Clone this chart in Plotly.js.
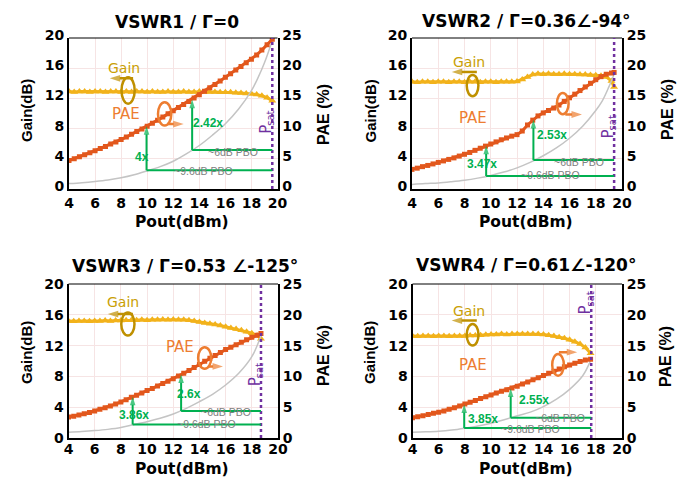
<!DOCTYPE html>
<html><head><meta charset="utf-8">
<script src="https://cdn.plot.ly/plotly-3.0.1.min.js"></script>
<style>html,body{margin:0;padding:0;background:#fff}#chart{width:684px;height:483px}</style>
</head><body><div id="chart"></div>
<script>
// ---------------- data ----------------
const xTicks = [4, 6, 8, 10, 12, 14, 16, 18, 20];
const gainTicks = [0, 4, 8, 12, 16, 20];
const paeTicks = [0, 5, 10, 15, 20, 25];
const titles = ['VSWR1 / Γ=0', 'VSWR2 / Γ=0.36∠-94°', 'VSWR3 / Γ=0.53 ∠-125°', 'VSWR4 / Γ=0.61∠-120°'];

// VSWR1
const pout1 = [4.0,4.4,4.8,5.2,5.6,6.0,6.4,6.8,7.2,7.6,8.0,8.4,8.8,9.2,9.6,10.0,10.4,10.8,11.2,11.6,12.0,12.4,12.8,13.2,13.6,14.0,14.4,14.8,15.2,15.6,16.0,16.4,16.8,17.2,17.6,18.0,18.4,18.8,19.2,19.6];
const gain1 = [12.9,12.85,12.9,12.9,12.85,12.9,12.9,12.85,12.9,12.9,12.85,12.9,12.85,12.9,12.9,12.85,12.9,12.85,12.85,12.9,12.85,12.85,12.9,12.85,12.85,12.9,12.85,12.85,12.85,12.8,12.8,12.8,12.75,12.7,12.65,12.6,12.5,12.35,12.1,11.7];
const pae1 = [4.7,5.0,5.35,5.65,6.0,6.35,6.7,7.05,7.45,7.8,8.2,8.6,9.05,9.5,9.95,10.4,10.9,11.4,11.9,12.45,12.95,13.5,14.0,14.5,15.05,15.6,16.2,16.75,17.3,17.9,18.5,19.1,19.7,20.3,20.9,21.5,22.2,23.0,23.9,24.8];
const refPout1 = [4,5,6,7,8,9,10,11,12,13,14,15,16,17,18,18.5,19,19.6];
const refPae1 = [0.9,1.05,1.25,1.5,1.85,2.35,3.0,3.7,4.6,5.8,7.2,8.9,10.8,13.2,16.3,18.4,20.9,24.6];

// VSWR2
const pout2 = [4.0,4.4,4.8,5.2,5.6,6.0,6.4,6.8,7.2,7.6,8.0,8.4,8.8,9.2,9.6,10.0,10.4,10.8,11.2,11.6,12.0,12.4,12.8,13.2,13.6,14.0,14.4,14.8,15.2,15.6,16.0,16.4,16.8,17.2,17.6,18.0,18.4,18.8,19.2,19.4];
const gain2 = [14.2,14.15,14.2,14.2,14.15,14.2,14.2,14.15,14.2,14.2,14.15,14.2,14.2,14.15,14.2,14.2,14.15,14.2,14.2,14.2,14.25,14.5,14.85,15.15,15.25,15.2,15.25,15.2,15.2,15.25,15.2,15.2,15.15,15.15,15.1,15.05,15.0,14.85,14.3,13.5];
const pae2 = [3.25,3.45,3.7,3.9,4.15,4.4,4.65,4.9,5.15,5.45,5.75,6.05,6.4,6.75,7.1,7.45,7.8,8.15,8.45,8.75,9.0,9.6,10.6,11.4,12.1,12.6,13.0,13.4,13.9,14.5,15.1,15.7,16.3,16.9,17.5,18.1,18.6,19.0,19.2,19.3];
const refPout2 = [4,5,6,7,8,9,10,11,12,13,14,15,16,17,18,18.5,19,19.4];
const refPae2 = [0.75,0.9,1.0,1.2,1.45,1.8,2.25,2.8,3.5,4.4,5.5,6.8,8.4,10.4,13.0,14.6,16.9,19.0];

// VSWR3
const pout3 = [4.0,4.4,4.8,5.2,5.6,6.0,6.4,6.8,7.2,7.6,8.0,8.4,8.8,9.2,9.6,10.0,10.4,10.8,11.2,11.6,12.0,12.4,12.8,13.2,13.6,14.0,14.4,14.8,15.2,15.6,16.0,16.4,16.8,17.2,17.6,18.0,18.4,18.7];
const gain3 = [15.2,15.15,15.2,15.2,15.15,15.2,15.2,15.25,15.2,15.25,15.25,15.3,15.3,15.3,15.35,15.3,15.35,15.35,15.4,15.35,15.4,15.35,15.35,15.3,15.2,15.05,14.95,14.85,14.75,14.6,14.45,14.3,14.15,14.0,13.8,13.6,13.3,12.9];
const pae3 = [3.4,3.55,3.75,3.95,4.15,4.4,4.65,4.9,5.2,5.5,5.85,6.2,6.6,6.95,7.3,7.7,8.05,8.45,8.85,9.2,9.6,10.05,10.5,10.95,11.45,11.95,12.45,12.95,13.4,13.9,14.35,14.75,15.15,15.55,15.95,16.35,16.7,16.95];
const refPout3 = [4,5,6,7,8,9,10,11,12,13,14,15,16,17,18,18.7];
const refPae3 = [0.95,1.05,1.2,1.4,1.7,2.2,2.65,3.2,3.9,4.8,5.9,7.1,8.6,10.5,13.2,16.6];

// VSWR4
const pout4 = [4.0,4.4,4.8,5.2,5.6,6.0,6.4,6.8,7.2,7.6,8.0,8.4,8.8,9.2,9.6,10.0,10.4,10.8,11.2,11.6,12.0,12.4,12.8,13.2,13.6,14.0,14.4,14.8,15.2,15.6,16.0,16.4,16.8,17.2,17.6];
const gain4 = [13.25,13.2,13.25,13.25,13.2,13.25,13.25,13.2,13.25,13.25,13.25,13.3,13.3,13.35,13.4,13.45,13.45,13.5,13.45,13.5,13.5,13.5,13.5,13.5,13.5,13.45,13.35,13.25,13.1,12.95,12.75,12.5,12.2,11.75,11.0];
const pae4 = [3.3,3.45,3.6,3.8,4.0,4.2,4.4,4.65,4.9,5.2,5.5,5.8,6.1,6.4,6.7,7.0,7.3,7.6,7.85,8.1,8.4,8.75,9.1,9.45,9.8,10.15,10.5,10.85,11.2,11.55,11.85,12.15,12.4,12.65,12.8];
const refPout4 = [4,5,6,7,8,9,10,11,12,13,14,15,16,17,17.65];
const refPae4 = [0.95,1.0,1.1,1.3,1.6,1.95,2.4,2.95,3.6,4.2,5.1,6.3,7.9,10.1,12.8];

// Psat and back-off markers (Pout, reference PAE, measured PAE, improvement label)
const psat = [19.6, 19.4, 18.7, 17.65];
const pboPout = [[9.95, 13.45], [9.65, 13.25], [8.9, 12.6], [7.95, 11.5]];
const pboRefPae = [[3.1, 6.45], [2.15, 4.8], [2.2, 4.4], [1.62, 3.3]];
const pboPae = [[10.4, 14.8], [7.15, 11.45], [6.7, 10.3], [5.45, 8.05]];
const pboLabels = [['4x', '2.42x'], ['3.47x', '2.53x'], ['3.86x', '2.6x'], ['3.85x', '2.55x']];

// ---------------- layout / decoration ----------------
const POUT = [pout1, pout2, pout3, pout4];
const GAIN = [gain1, gain2, gain3, gain4];
const PAE = [pae1, pae2, pae3, pae4];
const REFX = [refPout1, refPout2, refPout3, refPout4];
const REFY = [refPae1, refPae2, refPae3, refPae4];

const W = 684, H = 483;
const px = v => v / W, py = v => 1 - v / H;
const dom = [
  {x: [69, 277.5], y: [38, 189]},
  {x: [412, 622], y: [38, 189]},
  {x: [68.5, 278], y: [284, 438]},
  {x: [412.5, 622], y: [284, 438]}
];
const xLabelShift = [0, 0, -3, -3];
const yLabelShift = [-3, -3, 0, 0];
const titlePos = [[176.7, 22], [526, 21], [185, 265.5], [526, 265]];
const gainTitlePos = [[26, 111], [369.5, 111], [26, 353], [369, 353]];
const paeTitlePos = [[323, 115], [667, 110], [323, 356], [665, 357]];
const poutTitlePos = [[182, 222], [526, 222], [182, 469], [526, 469]];
// decoration in data coords
const deco = [
  {gainTxt: [8.2, 16.0], gainArr: [8.92, 7.13, 14.66], gainEll: [8.03, 9.04, 11.3, 14.8],
   paeTxt: [8.36, 9.93], paeEll: [10.83, 11.85, 8.4, 11.5], paeArr: [11.6, 12.8, 8.6],
   psatTxt: [19.1, 7.95], lbl: [[9.6, 5.25], [14.65, 10.9]], pboTxt: [[16.56, 6.2], [14.3, 2.9]]},
  {gainTxt: [8.35, 16.8], gainArr: [8.94, 7.03, 15.5], gainEll: [8.17, 9.06, 12.3, 15.1],
   paeTxt: [8.68, 9.43], paeEll: [15.04, 15.93, 9.9, 12.7], paeArr: [15.68, 16.95, 9.87],
   psatTxt: [18.9, 7.3], lbl: [[9.32, 4.1], [14.66, 8.9]], pboTxt: [[16.75, 4.46], [14.53, 2.4]]},
  {gainTxt: [8.2, 17.7], gainArr: [8.92, 7.0, 16.1], gainEll: [8.03, 9.04, 13.3, 16.3],
   paeTxt: [12.48, 11.8], paeEll: [13.9, 14.9, 9.0, 11.8], paeArr: [14.65, 15.8, 9.29],
   psatTxt: [18.2, 7.3], lbl: [[9.04, 3.67], [13.17, 7.18]], pboTxt: [[16.05, 4.2], [14.52, 2.2]]},
  {gainTxt: [8.32, 16.54], gainArr: [8.91, 6.99, 15.25], gainEll: [8.14, 9.04, 12.0, 14.8],
   paeTxt: [8.65, 9.5], paeEll: [14.67, 15.56, 8.1, 10.9], paeArr: [15.18, 16.58, 11.14],
   psatTxt: [17.2, 16.6], lbl: [[9.42, 3.13], [13.31, 6.1]], pboTxt: [[15.3, 3.24], [13.0, 1.5]]}
];

const C_GAIN = '#F2B21B', C_GAIN_DK = '#BF9000', C_GAIN_TXT = '#C9A005';
const C_PAE = '#E2571C', C_PAE_TXT = '#ED7D31';
const C_GREEN = '#00B050', C_PURPLE = '#7030A0', GRID = '#F6E4E4';
const tickFont = {family: 'DejaVu Sans', size: 14, color: '#000', weight: 'bold'};
const C = {xanchor: 'center', yanchor: 'middle', showarrow: false};

const traces = [], shapes = [], annotations = [];
const layout = {
  width: W, height: H, margin: {l: 0, r: 0, t: 0, b: 0},
  paper_bgcolor: '#fff', plot_bgcolor: '#fff', showlegend: false,
  font: {family: 'DejaVu Sans', color: '#000'}
};

// arrow drawn as a two-point line ending in an arrow marker
function arrowTrace(xa, yaRef, x0, y0, x1, y1, color, width, headSize) {
  return {x: [x0, x1], y: [y0, y1], xaxis: xa, yaxis: yaRef, type: 'scatter', mode: 'lines+markers',
    line: {color: color, width: width},
    marker: {symbol: 'arrow', angleref: 'previous', size: [0, headSize], color: color, line: {width: 0}},
    hoverinfo: 'skip', cliponaxis: false};
}

for (let i = 0; i < 4; i++) {
  const n = i + 1;
  const xa = 'x' + (n === 1 ? '' : n), ya = 'y' + (n === 1 ? '' : n), pa = 'y' + (n + 4);
  const xk = 'xaxis' + (n === 1 ? '' : n), yk = 'yaxis' + (n === 1 ? '' : n), pk = 'yaxis' + (n + 4);
  const d = dom[i];
  layout[xk] = {
    domain: [px(d.x[0]), px(d.x[1])], range: [4, 20], anchor: ya,
    tickvals: xTicks, ticktext: xTicks.map(String), ticks: '', tickfont: tickFont,
    ticklabelstandoff: xLabelShift[i],
    showgrid: true, gridcolor: GRID, gridwidth: 1, zeroline: false,
    showline: true, linecolor: '#000', linewidth: 2, automargin: false, fixedrange: true
  };
  layout[yk] = {
    domain: [py(d.y[1]), py(d.y[0])], range: [0, 20], anchor: xa,
    tickvals: gainTicks, ticktext: gainTicks.map(String), ticks: '', tickfont: tickFont,
    ticklabelshift: yLabelShift[i],
    showgrid: true, gridcolor: GRID, gridwidth: 1, zeroline: false,
    showline: true, linecolor: '#000', linewidth: 2, automargin: false, fixedrange: true
  };
  layout[pk] = {
    overlaying: ya, side: 'right', anchor: xa, range: [0, 25],
    tickvals: paeTicks, ticktext: paeTicks.map(String), ticks: '', tickfont: tickFont,
    ticklabelshift: yLabelShift[i],
    showgrid: false, zeroline: false,
    showline: true, linecolor: '#000', linewidth: 2, automargin: false, fixedrange: true
  };
  shapes.push({type: 'line', xref: xa + ' domain', yref: ya + ' domain', x0: 0, x1: 1, y0: 1, y1: 1,
    line: {color: '#000', width: 1}});

  traces.push({x: REFX[i], y: REFY[i], xaxis: xa, yaxis: pa, type: 'scatter', mode: 'lines',
    line: {color: '#C4C4C4', width: 1.5, shape: 'spline'}, hoverinfo: 'skip'});
  traces.push({x: POUT[i], y: GAIN[i], xaxis: xa, yaxis: ya, type: 'scatter', mode: 'lines+markers',
    line: {color: C_GAIN, width: 3}, marker: {symbol: 'triangle-up', size: 7, color: C_GAIN}, name: 'Gain'});
  traces.push({x: POUT[i], y: PAE[i], xaxis: xa, yaxis: pa, type: 'scatter', mode: 'lines+markers',
    line: {color: C_PAE, width: 3}, marker: {symbol: 'square', size: 5, color: C_PAE}, name: 'PAE'});

  // Psat marker line and label (P + subscript "sat", rotated)
  shapes.push({type: 'line', xref: xa, yref: ya + ' domain', x0: psat[i], x1: psat[i], y0: 0, y1: 1,
    line: {color: C_PURPLE, width: 2.5, dash: 'dot'}, layer: 'above'});
  annotations.push(Object.assign({xref: xa, yref: ya, x: deco[i].psatTxt[0], y: deco[i].psatTxt[1], text: 'P',
    textangle: -90, font: {family: 'DejaVu Sans', size: 15, color: C_PURPLE}}, C));
  annotations.push(Object.assign({xref: xa, yref: ya, x: deco[i].psatTxt[0], y: deco[i].psatTxt[1], text: 'sat',
    xshift: 5, yshift: 11, textangle: -90, font: {family: 'DejaVu Sans', size: 10, color: C_PURPLE}}, C));

  for (let k = 0; k < 2; k++) {
    shapes.push({type: 'line', xref: xa, yref: pa, x0: pboPout[i][k], x1: psat[i], y0: pboRefPae[i][k], y1: pboRefPae[i][k],
      line: {color: C_GREEN, width: 2}, layer: 'above'});
    traces.push(arrowTrace(xa, pa, pboPout[i][k], pboRefPae[i][k], pboPout[i][k], pboPae[i][k], C_GREEN, 2, 9));
    annotations.push(Object.assign({xref: xa, yref: pa, x: deco[i].lbl[k][0], y: deco[i].lbl[k][1], text: pboLabels[i][k],
      font: {family: 'Liberation Sans', size: 12, color: C_GREEN, weight: 'bold'}}, C));
    annotations.push(Object.assign({xref: xa, yref: pa, x: deco[i].pboTxt[k][0], y: deco[i].pboTxt[k][1],
      text: k === 0 ? '~6dB PBO' : '~9.6dB PBO',
      font: {family: 'Liberation Sans', size: 10.5, color: '#808080'}}, C));
  }

  const g = deco[i];
  annotations.push(Object.assign({xref: xa, yref: ya, x: g.gainTxt[0], y: g.gainTxt[1], text: 'Gain',
    font: {family: 'DejaVu Sans', size: 14, color: C_GAIN_TXT}}, C));
  traces.push(arrowTrace(xa, ya, g.gainArr[0], g.gainArr[2], g.gainArr[1], g.gainArr[2], C_GAIN_DK, 2.5, 11));
  shapes.push({type: 'circle', xref: xa, yref: ya, x0: g.gainEll[0], x1: g.gainEll[1], y0: g.gainEll[2], y1: g.gainEll[3],
    line: {color: C_GAIN_DK, width: 2.5}, layer: 'above'});
  annotations.push(Object.assign({xref: xa, yref: ya, x: g.paeTxt[0], y: g.paeTxt[1], text: 'PAE',
    font: {family: 'DejaVu Sans', size: 15, color: C_PAE_TXT}}, C));
  traces.push(arrowTrace(xa, ya, g.paeArr[0], g.paeArr[2], g.paeArr[1], g.paeArr[2], C_PAE_TXT, 2.5, 11));
  shapes.push({type: 'circle', xref: xa, yref: ya, x0: g.paeEll[0], x1: g.paeEll[1], y0: g.paeEll[2], y1: g.paeEll[3],
    line: {color: C_PAE_TXT, width: 2.5}, layer: 'above'});

  annotations.push(Object.assign({xref: 'paper', yref: 'paper', x: px(titlePos[i][0]), y: py(titlePos[i][1]), text: titles[i],
    font: {family: 'DejaVu Sans', size: 17, color: '#000', weight: 'bold'}}, C));
  annotations.push(Object.assign({xref: 'paper', yref: 'paper', x: px(gainTitlePos[i][0]), y: py(gainTitlePos[i][1]), text: 'Gain(dB)',
    textangle: -90, font: {family: 'Liberation Sans', size: 15, color: '#000', weight: 'bold'}}, C));
  annotations.push(Object.assign({xref: 'paper', yref: 'paper', x: px(paeTitlePos[i][0]), y: py(paeTitlePos[i][1]), text: 'PAE (%)',
    textangle: -90, font: {family: 'Liberation Sans', size: 16, color: '#000', weight: 'bold'}}, C));
  annotations.push(Object.assign({xref: 'paper', yref: 'paper', x: px(poutTitlePos[i][0]), y: py(poutTitlePos[i][1]), text: 'Pout(dBm)',
    font: {family: 'DejaVu Sans', size: 15.5, color: '#000', weight: 'bold'}}, C));
}
layout.shapes = shapes;
layout.annotations = annotations;

Plotly.newPlot('chart', traces, layout, {staticPlot: true, displayModeBar: false});
</script>
</body></html>
